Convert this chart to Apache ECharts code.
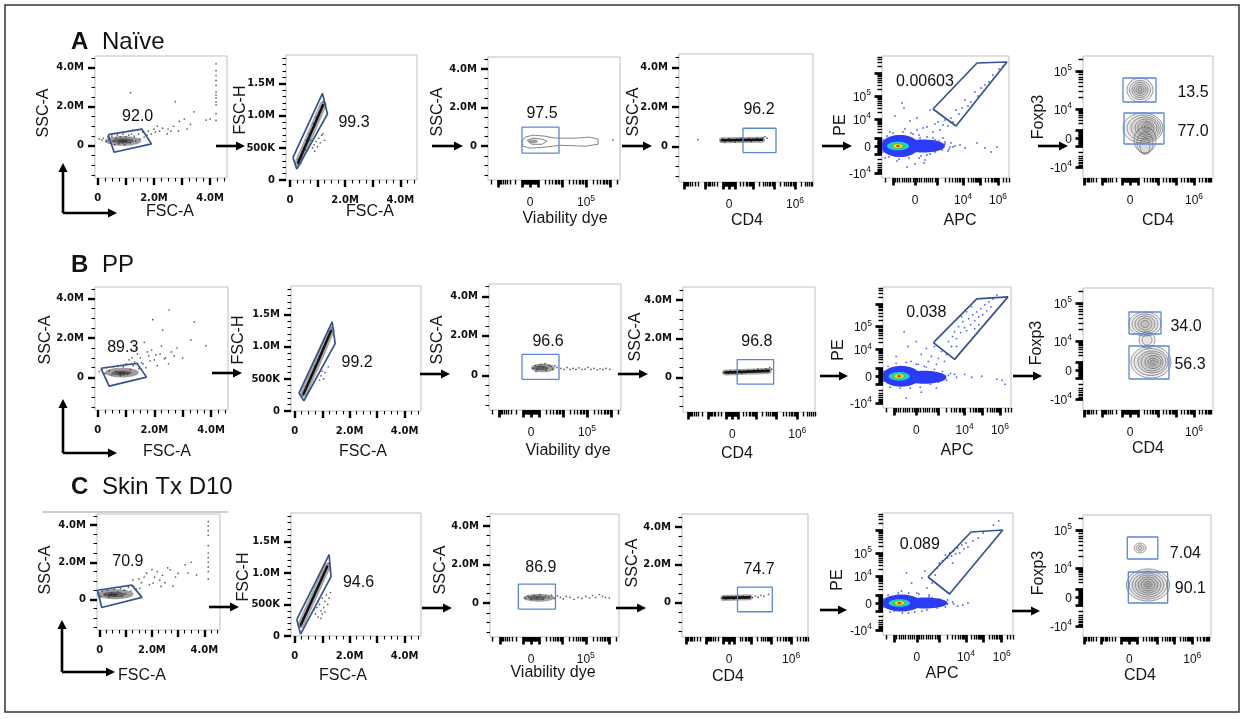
<!DOCTYPE html>
<html><head><meta charset="utf-8"><title>Gating strategy</title>
<script src="https://cdn.jsdelivr.net/npm/echarts@6/dist/echarts.min.js"></script>
<style>html,body{margin:0;padding:0;background:#fff;}#chart{width:1244px;height:719px;}</style>
</head><body><div id="chart"></div>
<script>
// ======================= DATA =======================
const rowLetters = ['A', 'B', 'C'];
const rowNames = ['Naïve', 'PP', 'Skin Tx D10'];
const xTitles = ['FSC-A', 'FSC-A', 'Viability dye', 'CD4', 'APC', 'CD4'];
const yTitles = ['SSC-A', 'FSC-H', 'SSC-A', 'SSC-A', 'PE', 'Foxp3'];

const pctNaive = ['92.0', '99.3', '97.5', '96.2', '0.00603', '13.5', '77.0'];
const pctPP = ['89.3', '99.2', '96.6', '96.8', '0.038', '34.0', '56.3'];
const pctSkin = ['70.9', '94.6', '86.9', '74.7', '0.089', '7.04', '90.1'];
const pctPosNaive = [[1.42,1.52],[2.32,0.89],[12,1.71],[30,1.85],[10,64],[63,45],[63,6]];
const pctPosPP = [[0.88,1.52],[2.27,0.75],[17,1.72],[25,1.85],[10,64],[56,43],[60,5]];
const pctPosSkin = [[1.08,2.03],[2.32,0.85],[10,1.82],[32,1.77],[3,58],[57,43],[62,8]];

// linear axes (values in millions)
const linXMajor = [0, 1, 2, 3, 4];
const linXMinor = [0.25,0.5,0.75,1.25,1.5,1.75,2.25,2.5,2.75,3.25,3.5,3.75,4.25,4.5];
const linYMajor = [0, 2, 4];
const linYMinor = [-1.5,-1,-0.5,0.5,1,1.5,2.5,3,3.5,4.5];
const linMLabelVals = [0, 2, 4];
const linMLabelText = ['0', '2.0M', '4.0M'];
const fschMajor = [0, 0.5, 1.0, 1.5];
const fschMinor = [0.1,0.2,0.3,0.4,0.6,0.7,0.8,0.9,1.1,1.2,1.3,1.4,1.6,1.7,1.8,1.9];
const fschLabelVals = [0, 0.5, 1.0, 1.5];
const fschLabelText = ['0', '500K', '1.0M', '1.5M'];

// biexponential axes: display channel of each decade [exponent, channel]
const viaDecades = [[3,8],[4,32],[5,56],[6,80]];
const viaLabelVals = [0, 56];   const viaLabelText = ['0', '10^5'];
const cd4aDecades = [[3,6],[4,24],[5,45],[6,66]];
const cd4aLabelVals = [0, 66];  const cd4aLabelText = ['0', '10^6'];
const apcDecades = [[3,22],[4,48],[5,65],[6,83]];
const apcLabelVals = [0, 48, 83]; const apcLabelText = ['0', '10^4', '10^6'];
const peDecades = [[3,8],[4,27],[5,50],[6,73]];
const peLabelVals = [-27, 0, 27, 50]; const peLabelText = ['-10^4', '0', '10^4', '10^5'];
const cd4bDecades = [[3,8],[4,28],[5,46],[6,64]];
const cd4bLabelVals = [0, 64];  const cd4bLabelText = ['0', '10^6'];
const foxDecades = [[3,8],[4,29],[5,67]];
const foxLabelVals = [-29, 0, 29, 67]; const foxLabelText = ['-10^4', '0', '10^4', '10^5'];

// ---- Column 1: FSC-A vs SSC-A (M) ----
const naive1Dots = [[0.05,0.35],[0.15,0.3],[0.2,0.4],[0.3,0.22],[0.35,0.45],[0.4,0.3],[0.45,0.15],[0.5,0.5],[0.55,0.25],[0.6,0.05],[0.65,0.4],[0.7,0.55],[0.75,0.1],[0.8,0.45],[0.9,0.6],[0.95,0.05],[1.0,0.45],[1.1,0.55],[1.15,0.15],[1.2,0.6],[1.3,0.5],[1.35,0.25],[1.45,0.6],[1.5,0.35],[1.6,0.7],[1.65,0.45],[1.75,0.55],[1.8,0.75],[1.9,0.6],[2.0,0.85],[2.05,0.71],[2.12,1.01],[2.2,0.75],[2.3,0.9],[2.47,0.61],[2.5,0.86],[2.6,0.75],[2.7,1.0],[2.87,0.76],[2.9,1.25],[3.08,1.37],[3.18,0.86],[3.3,1.1],[3.43,1.74],[3.86,1.32],[4.0,1.37],[1.17,2.72],[2.76,2.26],[1.25,0.8],[1.55,0.85],[4.21,4.2],[4.21,3.85],[4.21,3.6],[4.21,3.35],[4.21,3.1],[4.21,2.75],[4.21,2.6],[4.21,2.45],[4.21,2.25],[4.21,2.1],[4.21,1.65],[4.21,1.3]];
const naive1Core = [[0.9,0.25,0.65,0.25],[0.9,0.25,0.38,0.14],[0.9,0.24,0.18,0.08]];
const naive1Gate = [[0.37,0.57],[1.57,0.85],[1.91,0.1],[0.58,-0.33]];
const pp1Dots = [[0.05,0.3],[0.15,0.4],[0.25,0.2],[0.3,0.5],[0.4,0.35],[0.5,0.15],[0.55,0.55],[0.65,0.3],[0.7,0.6],[0.8,0.1],[0.9,0.55],[1.0,0.7],[1.05,0.2],[1.1,0.9],[1.2,1.0],[1.25,0.6],[1.3,0.8],[1.4,1.2],[1.45,0.45],[1.5,1.0],[1.55,0.75],[1.6,0.7],[1.64,1.79],[1.7,0.5],[1.75,1.3],[1.8,1.1],[1.85,0.85],[1.9,1.4],[1.94,2.94],[2.0,0.9],[2.05,1.15],[2.1,0.6],[2.2,1.2],[2.29,2.41],[2.35,0.95],[2.4,1.0],[2.5,0.7],[2.52,3.43],[2.6,1.3],[2.7,1.1],[2.8,1.5],[3.0,1.0],[3.29,1.91],[3.41,2.83],[3.82,1.62],[1.35,1.45],[1.15,0.4],[2.25,1.6]];
const pp1Core = [[0.85,0.25,0.6,0.25],[0.85,0.23,0.35,0.13],[0.85,0.22,0.16,0.07]];
const pp1Gate = [[0.11,0.47],[1.38,0.72],[1.72,0.02],[0.40,-0.44]];
const skin1Dots = [[-0.05,0.3],[0.05,0.15],[0.1,0.45],[0.2,0.25],[0.3,0.5],[0.35,0.1],[0.45,0.35],[0.55,0.55],[0.6,0.2],[0.7,0.4],[0.8,0.6],[0.85,0.15],[0.95,0.5],[1.0,0.3],[1.1,0.65],[1.2,0.45],[1.27,1.04],[1.3,0.7],[1.4,0.55],[1.54,0.6],[1.6,0.9],[1.7,1.2],[1.8,1.41],[1.9,0.8],[2.04,0.88],[2.1,1.2],[2.2,1.5],[2.3,1.04],[2.4,1.3],[2.5,0.9],[2.6,1.7],[2.7,1.59],[2.8,0.71],[2.9,1.2],[3.0,1.4],[3.27,1.86],[3.38,1.42],[3.5,2.0],[3.7,1.31],[2.0,1.6],[1.5,1.1],[2.35,0.7],[4.15,4.2],[4.15,3.95],[4.15,3.7],[4.15,3.45],[4.15,2.9],[4.15,2.5],[4.15,2.25],[4.15,2.0],[4.15,1.75],[4.15,1.5],[4.15,1.1]];
const skin1Core = [[0.6,0.28,0.7,0.27],[0.55,0.26,0.42,0.15],[0.5,0.25,0.2,0.08]];
const skin1Gate = [[-0.08,0.49],[1.23,0.77],[1.62,0.11],[0.08,-0.44]];

// ---- Column 2: FSC-A vs FSC-H (M) ----
const naive2Dots = [[0.25,0.2],[0.3,0.32],[0.35,0.25],[0.4,0.35],[0.45,0.45],[0.5,0.5],[0.55,0.47],[0.6,0.62],[0.65,0.6],[0.7,0.72],[0.75,0.62],[0.8,0.78],[0.85,0.88],[0.9,0.85],[0.95,0.98],[1.0,0.95],[1.05,1.05],[1.1,1.08],[1.15,1.15],[1.2,1.22],[1.25,1.2],[0.82,0.5],[0.88,0.55],[0.9,0.45],[0.95,0.6],[1.0,0.52],[1.05,0.65],[1.1,0.58],[1.15,0.7],[1.2,0.72],[1.25,0.62]];
const naive2Band = [[0.3,0.27],[0.75,0.72],[1.2,1.17]];
const naive2Gate = [[0.11,0.35],[1.18,1.35],[1.36,1.03],[0.25,0.17]];
const pp2Dots = [[0.3,0.25],[0.35,0.3],[0.42,0.38],[0.5,0.45],[0.55,0.5],[0.6,0.56],[0.68,0.63],[0.72,0.7],[0.8,0.74],[0.85,0.8],[0.9,0.86],[0.95,0.9],[1.0,0.97],[1.05,1.0],[1.1,1.06],[1.15,1.1],[1.2,1.15],[1.25,1.2],[1.3,1.24],[1.35,1.3],[0.95,0.55],[1.0,0.62],[1.05,0.5],[1.1,0.6],[1.22,0.69],[0.9,0.48]];
const pp2Band = [[0.32,0.27],[0.85,0.78],[1.32,1.25]];
const pp2Gate = [[0.15,0.28],[1.36,1.39],[1.47,1.05],[0.33,0.16]];
const skin2Dots = [[0.2,0.15],[0.25,0.22],[0.3,0.28],[0.38,0.33],[0.45,0.4],[0.5,0.47],[0.55,0.5],[0.62,0.58],[0.7,0.65],[0.75,0.7],[0.82,0.76],[0.88,0.82],[0.95,0.88],[1.0,0.92],[1.05,0.98],[1.1,1.03],[1.18,1.1],[1.22,1.15],[1.28,1.05],[0.75,0.35],[0.8,0.45],[0.85,0.3],[0.9,0.5],[0.95,0.4],[1.0,0.6],[1.05,0.45],[1.1,0.55],[1.15,0.65],[1.2,0.5],[1.25,0.6],[1.3,0.69],[0.85,0.55],[0.95,0.28],[1.1,0.38],[0.7,0.42],[1.0,0.35]];
const skin2Band = [[0.22,0.18],[0.7,0.64],[1.18,1.1]];
const skin2Gate = [[0.07,0.26],[1.25,1.29],[1.32,0.94],[0.21,0.03]];

// ---- Column 3: Viability dye (channel) vs SSC-A (M) ----
const naive3Dots = [[83,0.32]];
const naive3ContourOuter = [[-8,0.26],[-5,0.47],[3,0.57],[15,0.52],[25,0.42],[45,0.42],[60,0.47],[68,0.36],[68,0.1],[55,0],[30,0.05],[15,-0.05],[0,-0.1],[-7,0],[-8,0.26]];
const naive3ContourInner = [[-3,0.31],[3,0.42],[12,0.36],[17,0.26],[12,0.1],[2,0.1],[-3,0.31]];
const naive3Core = [[3,0.25,5,0.1]];
const naive3Gate = [-8, 29, -0.36, 0.99];
const pp3Dots = [[2,0.35],[4,0.5],[6,0.3],[8,0.45],[10,0.55],[12,0.4],[14,0.6],[16,0.35],[18,0.5],[20,0.45],[22,0.3],[24,0.5],[26,0.4],[5,0.2],[15,0.25],[30,0.35],[33,0.3],[36,0.4],[39,0.3],[42,0.35],[45,0.3],[48,0.38],[51,0.3],[54,0.32],[57,0.4],[60,0.3],[63,0.35],[66,0.28],[69,0.33],[72,0.3],[75,0.35],[79,0.3]];
const pp3Core = [[12,0.38,12,0.22],[10,0.38,7,0.12]];
const pp3Gate = [-9, 28, -0.2, 1.06];
const skin3Dots = [[-6,0.25],[-3,0.35],[0,0.2],[3,0.4],[6,0.3],[9,0.45],[12,0.2],[15,0.35],[18,0.3],[21,0.42],[24,0.25],[27,0.38],[30,0.3],[33,0.22],[36,0.35],[40,0.3],[44,0.2],[48,0.3],[52,0.25],[56,0.35],[60,0.28],[63,0.4],[66,0.3],[70,0.45],[73,0.35],[76,0.3],[80,0.28]];
const skin3Core = [[8,0.28,16,0.2],[6,0.28,9,0.11]];
const skin3Gate = [-13, 25, -0.31, 0.99];

// ---- Column 4: CD4 (channel) vs SSC-A (M) ----
const naive4Dots = [[-31,0.35],[-8,0.3],[-6,0.38],[-4,0.22],[-2,0.33],[0,0.4],[2,0.28],[4,0.35],[6,0.22],[8,0.38],[10,0.3],[12,0.42],[14,0.27],[16,0.35],[18,0.3],[20,0.4],[22,0.25],[24,0.36],[26,0.32],[28,0.42],[30,0.3],[32,0.38],[34,0.45],[36,0.5],[38,0.42]];
const naive4Band = [[-7,0.31],[33,0.34]];
const naive4Gate = [14, 47, -0.31, 0.92];
const pp4Dots = [[-9,0.25],[-6,0.3],[-4,0.2],[-2,0.32],[0,0.22],[2,0.3],[4,0.18],[6,0.28],[8,0.35],[10,0.22],[12,0.3],[14,0.25],[16,0.36],[18,0.28],[20,0.32],[22,0.38],[24,0.3],[26,0.42],[28,0.34],[30,0.4],[32,0.32],[34,0.45],[36,0.38],[38,0.5],[40,0.42]];
const pp4Band = [[-7,0.25],[37,0.33]];
const pp4Gate = [5, 42, -0.36, 0.92];
const skin4Dots = [[-7,0.25],[-5,0.3],[-3,0.2],[-1,0.32],[1,0.24],[3,0.3],[5,0.2],[7,0.28],[9,0.33],[11,0.24],[13,0.3],[15,0.36],[17,0.26],[19,0.3],[22,0.34],[25,0.28],[28,0.36],[31,0.3],[34,0.4],[37,0.35],[42,0.45]];
const skin4Band = [[-6,0.26],[22,0.29]];
const skin4Gate = [9, 46, -0.47, 0.83];

// ---- Column 5: APC vs PE (channel), density level 0..4 ----
const naive5Dots = [[-13,43],[-11,38],[-20,30],[-5,25],[2,28],[8,18],[12,19],[15,36],[18,14],[20,22],[23,24],[25,16],[28,21],[30,26],[33,20],[36,28],[38,24],[41,36],[44,32],[47,38],[50,46],[53,40],[56,44],[60,54],[63,50],[66,58],[70,61],[74,64],[78,71],[84,77],[88,80],[25,-3],[30,2],[35,-1],[38,-1],[45,1],[50,-2],[62,3],[70,-2],[82,-1],[76,-6],[10,-14],[-8,-21],[0,-18],[5,8],[-25,14],[-30,-12],[15,-8],[20,6],[-2,12],[6,-10],[-18,-15],[28,8],[33,-5],[-28,10],[-22,13],[-12,14],[-4,13],[4,11],[12,9],[18,8],[24,5],[30,4],[36,3],[-26,-11],[-16,-13],[-6,-12],[4,-12],[12,-9],[20,-6],[27,-4],[34,-3],[40,0],[-32,-6],[-32,6],[9,-17],[-10,17],[2,16]];
const naive5Density = [[-15,0,19,11,0],[8,0,22,6.5,0],[-17,0,11,4.3,1],[-17,0,7.5,3,2],[-17,0,4.5,2,3],[-17,0,2,1.2,4]];
const naive5Gate = [[18,37],[62,83],[92,84],[41,20]];
const pp5Dots = [[32,35],[36,40],[38,45],[40,38],[42,50],[44,44],[46,55],[48,49],[50,46],[52,58],[54,52],[56,62],[58,56],[60,65],[62,60],[64,68],[66,62],[68,72],[70,66],[72,75],[74,70],[76,78],[80,82],[45,60],[50,65],[55,70],[58,48],[62,52],[40,30],[35,30],[-12,45],[-8,30],[0,35],[5,22],[10,28],[12,15],[15,20],[18,30],[20,12],[22,18],[25,25],[28,15],[30,22],[8,10],[-5,15],[25,-2],[32,1],[40,-1],[48,2],[55,-1],[65,0],[80,-3],[85,-4],[88,-8],[20,-12],[-10,-22],[5,-16],[-20,20],[2,12],[14,-6],[-28,10],[-20,13],[-10,14],[0,12],[10,9],[18,7],[26,5],[34,3],[-26,-11],[-16,-12],[-6,-12],[4,-11],[14,-8],[22,-6],[30,-4],[38,2],[-32,5],[-32,-5]];
const pp5Density = [[-15,0,19,10.5,0],[8,-1,22,6.5,0],[-17,0,10.5,4.3,1],[-17,0,7,3,2],[-17,0,4.5,2,3],[-17,0,2,1.2,4]];
const pp5Gate = [[17,34],[60,78],[91,80],[38,17]];
const skin5Dots = [[20,35],[25,42],[28,48],[30,45],[32,50],[34,47],[36,52],[38,49],[40,55],[42,50],[44,58],[46,54],[48,60],[50,56],[55,62],[60,65],[65,70],[75,78],[80,82],[22,40],[35,40],[-10,30],[-5,20],[5,25],[10,15],[15,20],[18,28],[8,32],[12,8],[-15,12],[0,10],[20,-2],[25,2],[30,-1],[35,1],[40,-3],[45,-2],[50,0],[-8,-10],[5,-8],[-22,-8],[15,5],[-28,8],[-18,10],[-8,10],[2,9],[12,6],[22,4],[30,3],[-26,-9],[-14,-10],[-2,-9],[10,-7],[20,-5],[28,-4],[36,-1],[-32,4],[-32,-4]];
const skin5Density = [[-15,0,19,8.5,0],[8,0,22,5.5,0],[-17,0,10.5,3.8,1],[-17,0,7,2.7,2],[-17,0,4.5,1.8,3],[-17,0,2,1.1,4]];
const skin5Gate = [[11,26],[53,71],[84,73],[32,9]];

// ---- Column 6: CD4 vs Foxp3 (channel), contour rings [cx, cy, rx, ry] ----
const naive6Rings = [[10,48,13,12],[10,48,10.5,9.5],[10,48,8,7.5],[10,48,6,5.5],[10,48,4,3.5],[10,48,2,2],[13,10,20,15],[14,10,17,13],[15,10,14,11],[16,10,11,9],[16,10,8,7],[17,11,5,4.5],[17,11,2.5,2.5],[15,-2,11,13],[15,-5,8,11],[15,-8,5,8]];
const naive6GateHi = [-7, 26, 36, 60];
const naive6GateLo = [-6, 34, -6, 25];
const pp6Rings = [[15,46,16,12],[15,46,13,10],[15,46,10,8],[15,46,7,6],[15,46,4,3.5],[17,30,8,8],[17,30,5,5],[21,8,20,16],[21,8,17,13.5],[22,8,14,11],[22,8,11,9],[23,8,8,6.5],[23,8,5,4],[23,8,2.5,2]];
const pp6GateHi = [-1, 31, 36, 58];
const pp6GateLo = [-1, 39, -9, 24];
const skin6Rings = [[11,49,6,5],[11,49,4,3],[11,49,1.8,1.5],[19,12,22,16],[19,12,19,14],[19,12,16,12],[19,12,13,10],[19,12,10,8],[19,12,7,6],[19,12,4,3.5],[19,12,1.8,1.6]];
const skin6GateHi = [-2, 29, 38, 60];
const skin6GateLo = [-1, 39, -6, 25];

// ======================= LAYOUT =======================
const FONT = '"Liberation Sans", Arial, Helvetica, sans-serif';
const GRIDS = [
  [[95,56,132,122],[286,55,131,125],[488,57,132,123],[679,54,134,128],[882,56,127,122],[1083,56,130,122]],
  [[95,287,133,123],[291,286,130,125],[489,284,132,126],[683,287,132,125],[883,287,128,121],[1083,288,130,122]],
  [[97,514,123,116],[291,513,130,123],[490,514,129,123],[682,514,126,123],[883,513,130,122],[1083,515,128,122]]
];
const XT = [
  [[170,213],[370,213],[565,220],[747,222],[960,222],[1158,222]],
  [[167,453],[363,453],[568,452],[737,455],[957,452],[1148,450]],
  [[142,677],[343,677],[553,674],[728,678],[942,675],[1140,677]]
];
const YT = [
  [[43,113],[240,110],[437,112],[633,112],[840,125],[1038,117]],
  [[45,340],[238,340],[437,340],[635,337],[838,350],[1036,343]],
  [[45,570],[243,577],[440,570],[632,563],[837,580],[1038,573]]
];
const ARROWS = [
  [[216,146,245,146],[432,146,463,146],[622,146,652,146],[822,146,852,146],[1038,146,1068,146]],
  [[212,373,242,373],[420,374,450,374],[618,374,648,374],[820,376,848,376],[1013,376,1042,376]],
  [[209,607,239,607],[422,608,452,608],[616,608,646,608],[820,610,847,610],[1012,611,1040,611]]
];
const LARROWS = [[63,213,163,117],[63,453,399,117],[62,672,620,115]];
const LABEL_Y = [42, 265, 487];

const COLS = [
  { x:{min:-0.1,max:4.6,t:'linX'}, y:{min:-1.65,max:4.6,t:'linY'} },
  { x:{min:-0.14,max:4.6,t:'linX'}, y:{min:0,max:1.95,t:'fsch'} },
  { x:{min:-42,max:90,t:'bx',dec:viaDecades,lv:viaLabelVals,lt:viaLabelText}, y:{min:-1.75,max:4.62,t:'linY'} },
  { x:{min:-50,max:84,t:'bx',dec:cd4aDecades,lv:cd4aLabelVals,lt:cd4aLabelText}, y:{min:-1.8,max:4.68,t:'linY'} },
  { x:{min:-33,max:94,t:'bx',dec:apcDecades,lv:apcLabelVals,lt:apcLabelText}, y:{min:-32,max:90,t:'bx',dec:peDecades,lv:peLabelVals,lt:peLabelText} },
  { x:{min:-47,max:83,t:'bx',dec:cd4bDecades,lv:cd4bLabelVals,lt:cd4bLabelText}, y:{min:-40,max:82,t:'bx',dec:foxDecades,lv:foxLabelVals,lt:foxLabelText} }
];

const ROWS = [
  { pct: pctNaive, pos: pctPosNaive, panels: [
    {dots:naive1Dots, cores:naive1Core, gates:[naive1Gate]},
    {dots:naive2Dots, bands:[naive2Band], gates:[naive2Gate]},
    {dots:naive3Dots, cores:naive3Core, contours:[naive3ContourOuter, naive3ContourInner], rects:[naive3Gate]},
    {dots:naive4Dots, bands:[naive4Band], rects:[naive4Gate]},
    {dots:naive5Dots, density:naive5Density, gates:[naive5Gate]},
    {rings:naive6Rings, rects:[naive6GateHi, naive6GateLo]} ]},
  { pct: pctPP, pos: pctPosPP, panels: [
    {dots:pp1Dots, cores:pp1Core, gates:[pp1Gate]},
    {dots:pp2Dots, bands:[pp2Band], gates:[pp2Gate]},
    {dots:pp3Dots, cores:pp3Core, rects:[pp3Gate]},
    {dots:pp4Dots, bands:[pp4Band], rects:[pp4Gate]},
    {dots:pp5Dots, density:pp5Density, gates:[pp5Gate]},
    {rings:pp6Rings, rects:[pp6GateHi, pp6GateLo]} ]},
  { pct: pctSkin, pos: pctPosSkin, panels: [
    {dots:skin1Dots, cores:skin1Core, gates:[skin1Gate]},
    {dots:skin2Dots, bands:[skin2Band], gates:[skin2Gate]},
    {dots:skin3Dots, cores:skin3Core, rects:[skin3Gate]},
    {dots:skin4Dots, bands:[skin4Band], rects:[skin4Gate]},
    {dots:skin5Dots, density:skin5Density, gates:[skin5Gate]},
    {rings:skin6Rings, rects:[skin6GateHi, skin6GateLo]} ]}
];

// ======================= BUILD =======================
const DENS_COLORS = ['#2a3cf5', '#1fc9f0', '#39d24a', '#f2e81a', '#f0301a'];
const grid = [], xAxis = [], yAxis = [], series = [];

function biexTicks(ax) {
  const dec = ax.dec, maj = [0], mnr = [];
  const p3 = dec[0][1];
  for (let m = 1; m <= 9; m++) { mnr.push(p3 * m / 10, -p3 * m / 10); }
  for (let i = 0; i < dec.length; i++) {
    const a = dec[i][1];
    const b = i + 1 < dec.length ? dec[i + 1][1] : a + (a - dec[i - 1][1]);
    maj.push(a, -a);
    for (let m = 2; m <= 9; m++) { const v = a + Math.log10(m) * (b - a); mnr.push(v, -v); }
  }
  const inR = v => v >= ax.min && v <= ax.max;
  return { maj: maj.filter(inR), min: mnr.filter(inR), lv: ax.lv, lt: ax.lt, bx: true };
}
function tickSpec(ax) {
  if (ax.t === 'linX') return { maj: linXMajor, min: linXMinor, lv: linMLabelVals, lt: linMLabelText, bx: false };
  if (ax.t === 'linY') return { maj: linYMajor, min: linYMinor, lv: linMLabelVals, lt: linMLabelText, bx: false };
  if (ax.t === 'fsch') return { maj: fschMajor, min: fschMinor, lv: fschLabelVals, lt: fschLabelText, bx: false };
  return biexTicks(ax);
}
function richText(t) {
  const m = t.match(/^(-?10)\^(\d)$/);
  return m ? '{b|' + m[1] + '}{s|' + m[2] + '}' : '{b|' + t + '}';
}
const RICH_BX = {
  b: { fontSize: 12, fontFamily: FONT, color: '#111', lineHeight: 15, verticalAlign: 'bottom' },
  s: { fontSize: 8.5, fontFamily: FONT, color: '#111', lineHeight: 15, verticalAlign: 'bottom', padding: [0, 0, 6, 0] }
};
const RICH_LIN = {
  b: { fontSize: 10, fontFamily: '"DejaVu Sans", sans-serif', fontWeight: 'bold', color: '#111', lineHeight: 12 }
};

function makeAxes(dim, gi, ax, box, titleCenter, title) {
  const spec = tickSpec(ax);
  const FS = 16;
  let nameGap, pad;
  if (dim === 'x') {
    nameGap = titleCenter[1] - (box[1] + box[3]) - FS / 2 - 1;
    const dx = titleCenter[0] - (box[0] + box[2] / 2);
    pad = dx >= 0 ? [0, 0, 0, 2 * dx] : [0, -2 * dx, 0, 0];
  } else {
    nameGap = box[0] - titleCenter[0] - FS / 2 - 1;
    const up = (box[1] + box[3] / 2) - titleCenter[1];
    pad = up >= 0 ? [0, 0, 0, 2 * up] : [0, -2 * up, 0, 0];
  }
  const common = { type: 'value', gridIndex: gi, min: ax.min, max: ax.max,
    position: dim === 'x' ? 'bottom' : 'left', splitLine: { show: false },
    axisLine: { show: false, onZero: false } };
  const major = Object.assign({}, common, {
    axisTick: { show: true, inside: false, length: spec.bx ? 7.5 : 7, lineStyle: { color: '#000', width: spec.bx ? 2.7 : 2.4 }, customValues: spec.maj },
    axisLabel: { show: true, customValues: spec.lv, margin: dim === 'x' ? 14 : 11, hideOverlap: false,
      rich: spec.bx ? RICH_BX : RICH_LIN,
      formatter: function (v) {
        let j = 0; let best = 1e9;
        spec.lv.forEach((lv, k) => { const d = Math.abs(lv - v); if (d < best) { best = d; j = k; } });
        return richText(spec.lt[j]);
      } },
    name: title, nameLocation: 'middle', nameGap: nameGap, nameMoveOverlap: false,
    nameTextStyle: { fontFamily: FONT, fontSize: FS, color: '#151515', padding: pad }
  });
  const minor = Object.assign({}, common, {
    axisTick: { show: true, inside: false, length: spec.bx ? 4.5 : 3.5, lineStyle: { color: '#000', width: spec.bx ? 1.4 : 1.1 }, customValues: spec.min },
    axisLabel: { show: false }
  });
  return [major, minor];
}

function closeRect(r) { return [[r[0], r[2]], [r[1], r[2]], [r[1], r[3]], [r[0], r[3]], [r[0], r[2]]]; }
function ellipseRender(kind) {
  return function (params, api) {
    const c = api.coord([api.value(0), api.value(1)]);
    const s = api.size([api.value(2), api.value(3)]);
    const rx = Math.abs(s[0]), ry = Math.abs(s[1]);
    const pts = [];
    for (let i = 0; i < 48; i++) { const t = i / 48 * Math.PI * 2; pts.push([c[0] + rx * Math.cos(t), c[1] + ry * Math.sin(t)]); }
    let style;
    if (kind === 'density') style = { fill: DENS_COLORS[api.value(4)], stroke: null };
    else if (kind === 'ring') style = { fill: 'rgba(0,0,0,0.05)', stroke: '#6b6b6b', lineWidth: 0.7 };
    else style = { fill: 'rgba(0,0,0,0.38)', stroke: null };
    return { type: 'polygon', shape: { points: pts }, style: style };
  };
}

ROWS.forEach((row, r) => {
  row.panels.forEach((p, c) => {
    const gi = r * 6 + c;
    const box = GRIDS[r][c];
    grid.push({ left: box[0], top: box[1], width: box[2], height: box[3], show: true,
      borderColor: '#bfbfbf', borderWidth: 1, backgroundColor: 'transparent' });
    const xa = makeAxes('x', gi, COLS[c].x, box, XT[r][c], xTitles[c]);
    const ya = makeAxes('y', gi, COLS[c].y, box, YT[r][c], yTitles[c]);
    const xi = xAxis.length, yi = yAxis.length;
    xAxis.push(xa[0], xa[1]); yAxis.push(ya[0], ya[1]);
    const base = { xAxisIndex: xi, yAxisIndex: yi, silent: true, animation: false };

    if (p.density) series.push(Object.assign({}, base, { type: 'custom', data: p.density, clip: true, renderItem: ellipseRender('density'), z: 3 }));
    if (p.dots) series.push(Object.assign({}, base, { type: 'scatter', data: p.dots, symbolSize: c === 4 ? 1.8 : 1.7,
      itemStyle: { color: c === 4 ? '#2b3df0' : '#333' }, z: 4 }));
    if (p.cores) series.push(Object.assign({}, base, { type: 'custom', data: p.cores, clip: true, renderItem: ellipseRender('core'), z: 4 }));
    if (p.rings) series.push(Object.assign({}, base, { type: 'custom', data: p.rings, clip: true, renderItem: ellipseRender('ring'), z: 4 }));
    (p.bands || []).forEach(b => {
      series.push(Object.assign({}, base, { type: 'line', data: b, showSymbol: false, symbol: 'none', z: 4,
        lineStyle: { color: 'rgba(0,0,0,0.35)', width: c === 1 ? 7 : 6, cap: 'round' } }));
      series.push(Object.assign({}, base, { type: 'line', data: b, showSymbol: false, symbol: 'none', z: 5,
        lineStyle: { color: '#111', width: c === 1 ? 2.4 : 2.6, cap: 'round' } }));
    });
    (p.contours || []).forEach(cn => series.push(Object.assign({}, base, { type: 'line', data: cn, showSymbol: false, symbol: 'none', z: 4,
      lineStyle: { color: '#777', width: 0.9 } })));
    (p.gates || []).forEach(g => series.push(Object.assign({}, base, { type: 'line', data: g.concat([g[0]]), showSymbol: false, symbol: 'none', z: 6,
      lineStyle: { color: '#34538f', width: 1.7 } })));
    (p.rects || []).forEach(g => series.push(Object.assign({}, base, { type: 'line', data: closeRect(g), showSymbol: false, symbol: 'none', z: 6,
      lineStyle: { color: '#5b86d6', width: 1.3 } })));
    // percentage labels
    const idx = c < 5 ? [c] : [5, 6];
    series.push(Object.assign({}, base, { type: 'scatter', symbolSize: 0.5, itemStyle: { color: '#ffffff', opacity: 1 }, z: 7,
      data: idx.map(k => ({ value: row.pos[k], name: row.pct[k] })),
      label: { show: true, position: 'inside', formatter: '{b}', fontFamily: FONT, fontSize: 16, color: '#111', opacity: 1 } }));
  });
});

// ---- graphic decorations ----
const graphic = [];
function arrow(x1, y1, x2, y2) {
  const ang = Math.atan2(y2 - y1, x2 - x1), L = 9, W = 4.6;
  const bx = x2 - L * Math.cos(ang), by = y2 - L * Math.sin(ang);
  const px = -Math.sin(ang) * W, py = Math.cos(ang) * W;
  graphic.push({ type: 'line', silent: true, shape: { x1: x1, y1: y1, x2: bx, y2: by }, style: { stroke: '#000', lineWidth: 2.6 } });
  graphic.push({ type: 'polygon', silent: true, shape: { points: [[x2, y2], [bx + px, by + py], [bx - px, by - py]] }, style: { fill: '#000' } });
}
graphic.push({ type: 'rect', silent: true, shape: { x: 5, y: 5, width: 1234, height: 707 }, style: { fill: 'none', stroke: '#333', lineWidth: 1.5 } });
graphic.push({ type: 'line', silent: true, shape: { x1: 42, y1: 512, x2: 228, y2: 512 }, style: { stroke: '#bdbdbd', lineWidth: 1.5 } });
ARROWS.forEach(rowA => rowA.forEach(a => arrow(a[0], a[1], a[2], a[3])));
LARROWS.forEach(a => { arrow(a[0], a[1], a[0], a[2]); arrow(a[0], a[1], a[3], a[1]); });
rowLetters.forEach((L, r) => {
  graphic.push({ type: 'text', silent: true, x: 71, y: LABEL_Y[r], style: { text: L, font: 'bold 24px ' + FONT, fill: '#111', verticalAlign: 'middle' } });
  graphic.push({ type: 'text', silent: true, x: 102, y: LABEL_Y[r], style: { text: rowNames[r], font: '24px ' + FONT, fill: '#111', verticalAlign: 'middle' } });
});

const chart = echarts.init(document.getElementById('chart'), null, { renderer: 'canvas' });
chart.setOption({
  backgroundColor: '#fff', animation: false,
  textStyle: { fontFamily: FONT },
  grid: grid, xAxis: xAxis, yAxis: yAxis, series: series, graphic: graphic
});
</script></body></html>
